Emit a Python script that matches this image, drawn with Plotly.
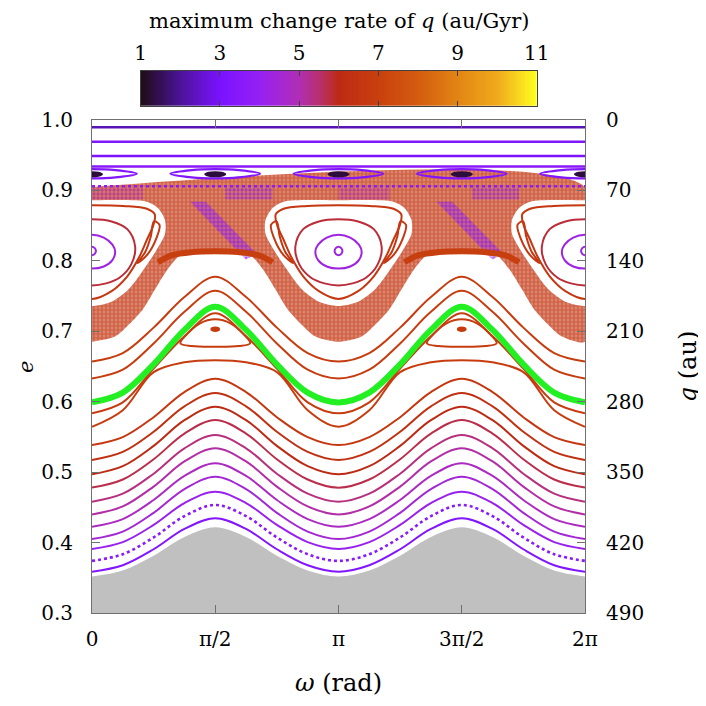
import numpy as np
import plotly.graph_objects as go
from plotly.colors import sample_colorscale

PI = np.pi

# ---------------- colour scale: maximum change rate of q (au/Gyr) ----------------
RATE_MIN, RATE_MAX = 1.0, 11.0
cscale = [[0.0, '#1e0c16'], [0.1, '#4c1498'], [0.2, '#7a12ff'], [0.3, '#9620f4'],
          [0.4, '#b02eb4'], [0.45, '#b83070'], [0.5, '#bd2a14'], [0.6, '#c8400e'],
          [0.7, '#d45c10'], [0.8, '#e28514'], [0.9, '#efaa1c'], [1.0, '#ffff20']]
cbar_ticks = [1, 3, 5, 7, 9, 11]

# ---------------- axes ----------------
x_tickvals = [0, PI / 2, PI, 3 * PI / 2, 2 * PI]
x_ticktext = ['0', 'π/2', 'π', '3π/2', '2π']
e_ticks = [0.3, 0.4, 0.5, 0.6, 0.7, 0.8, 0.9, 1.0]
q_ticks = [0, 70, 140, 210, 280, 350, 420, 490]

# ---------------- rotating (circulating) curves: e at omega = 0, pi/8, pi/4, 3pi/8, pi/2 ----
omega_half = [0, PI / 8, PI / 4, 3 * PI / 8, PI / 2]
rot_e = [
    [0.3587, 0.3678, 0.3905, 0.4193, 0.4345],
    [0.3740, 0.3835, 0.4073, 0.4375, 0.4534],
    [0.3910, 0.4007, 0.4251, 0.4560, 0.4722],
    [0.4050, 0.4156, 0.4422, 0.4759, 0.4936],
    [0.4226, 0.4334, 0.4604, 0.4946, 0.5126],
    [0.4400, 0.4513, 0.4795, 0.5152, 0.5340],
    [0.4580, 0.4694, 0.4978, 0.5338, 0.5528],
    [0.4780, 0.4895, 0.5183, 0.5548, 0.5740],
    [0.4970, 0.5085, 0.5373, 0.5738, 0.5930],
    [0.5173, 0.5287, 0.5573, 0.5935, 0.6125],
    [0.5385, 0.5498, 0.5780, 0.6137, 0.6325],
    [0.5645, 0.5880, 0.6420, 0.6560, 0.6590],
    [0.5836, 0.5990, 0.6470, 0.6930, 0.7255],
    [0.6330, 0.6455, 0.6828, 0.7276, 0.7575],
    [0.6570, 0.6690, 0.7052, 0.7486, 0.7775],
]
rot_rate = [3.3, 3.6, 4.1, 4.5, 4.8, 5.1, 5.4, 5.7, 6.0, 6.3, 6.6, 6.8, 6.8, 6.8, 6.8]
rot_dash = ['solid', 'dot'] + ['solid'] * 13

green_e = [0.599, 0.613, 0.653, 0.702, 0.735]
gray_e = [0.352, 0.3604, 0.3813, 0.4078, 0.4217]

# thick arch just below the X points (omega, e) for the left half, mirrored about pi/2
arch_w = [0.84, 1.02, 1.28, PI / 2]
arch_e = [0.798, 0.808, 0.8125, 0.8135]
arch_rate = 6.9

# small island inside the green-bounded lobe, centred at pi/2 and 3pi/2
small_centres = [PI / 2, 3 * PI / 2]
small_dw = [0, 0.20, 0.36, 0.445, 0.30, 0]
small_e = [0.717, 0.711, 0.696, 0.683, 0.679, 0.678]
small_rate = 6.8
dot_dw = [0, 0.035, 0.05, 0.035, 0]
dot_e = [0.7055, 0.7048, 0.7030, 0.7012, 0.7005]

# ---------------- nearly flat curves near e = 1 ----------------
flat_e = [0.9896, 0.969, 0.949, 0.934]
flat_rate = [2.3, 3.3, 3.1, 3.5]
dotted_e = 0.906
dotted_rate = 3.7

# small lens islands at e ~ 0.923 (half shape: d-omega, e), centres
lens_centres = [0, PI / 2, PI, 3 * PI / 2, 2 * PI]
lens_dw = [0, 0.30, 0.57, 0.30, 0]
lens_e = [0.9302, 0.9288, 0.9238, 0.9186, 0.9172]
lens_rate = 3.3
core_dw = [0, 0.08, 0.13, 0.08, 0]
core_e = [0.9262, 0.9255, 0.9230, 0.9205, 0.9198]
core_rate = 1.3

# ---------------- chaotic layer ----------------
chaos_low_w = [0, 0.30, 0.64, 0.80, 0.95, 1.10, 1.30, PI / 2]
chaos_low_e = [0.685, 0.693, 0.730, 0.759, 0.786, 0.806, 0.815, 0.817]
chaos_top_e = 0.905
chaos_rate = 6.5
purple_w = [1.25, 1.45, 2.10, 1.96]
purple_e = [0.884, 0.884, 0.810, 0.802]
purple_rate = 3.8
topband_w = [[0.0, 0.65], [1.70, 2.30]]
topband_rate = [4.8, 3.8]
topband_e = [0.887, 0.904]

# ---------------- big libration islands around omega = 0, pi, 2pi ----------------
island_centres = [0, PI, 2 * PI]
island_dw = [0, 0.25, 0.47, 0.66, 0.82, 0.93, 0.93, 0.84, 0.70, 0]
island_e = [0.736, 0.742, 0.760, 0.788, 0.815, 0.838, 0.858, 0.875, 0.884, 0.886]
loops = [
    dict(dw=[0, 0.035, 0.05, 0.035, 0], e=[0.820, 0.818, 0.814, 0.810, 0.808], rate=4.3),
    dict(dw=[0, 0.15, 0.26, 0.295, 0.26, 0.15, 0], e=[0.837, 0.833, 0.823, 0.813, 0.801, 0.792, 0.789], rate=4.3),
    dict(dw=[0, 0.25, 0.45, 0.55, 0.50, 0.35, 0.18, 0], e=[0.859, 0.856, 0.845, 0.820, 0.795, 0.776, 0.768, 0.765], rate=5.8),
    dict(dw=[0, 0.40, 0.70, 0.80, 0.78, 0.70, 0.60, 0.45, 0.25, 0],
         e=[0.879, 0.878, 0.874, 0.866, 0.850, 0.830, 0.805, 0.778, 0.757, 0.746], rate=6.6),
]
cres_dw = [0.79, 0.86, 0.82, 0.70, 0.58, 0.68, 0.75, 0.79]
cres_e = [0.856, 0.851, 0.832, 0.808, 0.797, 0.813, 0.835, 0.856]
cres_rate = 6.6


def col(rate):
    return sample_colorscale(cscale, [(rate - RATE_MIN) / (RATE_MAX - RATE_MIN)])[0]


def rgba(rate, a):
    return col(rate).replace('rgb', 'rgba').replace(')', ',%s)' % a)


def period_nodes(w_half, v_half):
    w1 = list(w_half) + [PI - w for w in reversed(w_half[:-1])]
    v1 = list(v_half) + list(reversed(v_half[:-1]))
    return w1 + [PI + w for w in w1[1:]], v1 + v1[1:]


def loop_nodes(dw, e, c):
    xs = [c + d for d in dw] + [c - d for d in reversed(dw[1:-1])] + [c + dw[0]]
    ys = list(e) + list(reversed(e[1:-1])) + [e[0]]
    return xs, ys


def speckle(rate, a_bg, solidity):
    return dict(shape='.', fgcolor=col(rate), bgcolor=rgba(rate, a_bg), size=4, solidity=solidity)


fig = go.Figure()

# forbidden (gray) region
gx, gy = period_nodes(omega_half, gray_e)
fig.add_trace(go.Scatter(x=gx, y=gy, mode='lines', line=dict(color='#c0c0c0', width=0, shape='spline'),
                         fill='tozeroy', fillcolor='#c0c0c0', hoverinfo='skip'))

# chaotic layer
lx, ly = period_nodes(chaos_low_w, chaos_low_e)
fig.add_trace(go.Scatter(x=lx + [2 * PI, 0], y=ly + [chaos_top_e, chaos_top_e], mode='lines',
                         line=dict(width=0, shape='spline', smoothing=0.6), fill='toself',
                         fillpattern=speckle(chaos_rate, 0.55, 0.7), hoverinfo='skip'))
for shift in [0, PI]:
    fig.add_trace(go.Scatter(x=[w + shift for w in purple_w] + [purple_w[0] + shift],
                             y=purple_e + [purple_e[0]], mode='lines', line=dict(width=0),
                             fill='toself', fillpattern=speckle(purple_rate, 0.35, 0.5), hoverinfo='skip'))
    for (w0, w1), r in zip(topband_w, topband_rate):
        fig.add_trace(go.Scatter(x=[w0 + shift, w1 + shift, w1 + shift, w0 + shift, w0 + shift],
                                 y=[topband_e[0], topband_e[0], topband_e[1], topband_e[1], topband_e[0]],
                                 mode='lines', line=dict(width=0), fill='toself',
                                 fillpattern=speckle(r, 0.2, 0.35), hoverinfo='skip'))

# island interiors (regular region) cleared of chaos
for c in island_centres:
    ix, iy = loop_nodes(island_dw, island_e, c)
    fig.add_trace(go.Scatter(x=ix, y=iy, mode='lines', line=dict(width=0, shape='spline', smoothing=0.8),
                             fill='toself', fillcolor='white', hoverinfo='skip'))

# island loops
for c in island_centres:
    for lp in loops:
        x, y = loop_nodes(lp['dw'], lp['e'], c)
        fig.add_trace(go.Scatter(x=x, y=y, mode='lines',
                                 line=dict(color=col(lp['rate']), width=2, shape='spline'), hoverinfo='skip'))
    for sgn in [1, -1]:
        fig.add_trace(go.Scatter(x=[c + sgn * d for d in cres_dw], y=cres_e, mode='lines',
                                 line=dict(color=col(cres_rate), width=2, shape='spline'), hoverinfo='skip'))

# rotating curves
for ev, r, d in zip(rot_e, rot_rate, rot_dash):
    x, y = period_nodes(omega_half, ev)
    fig.add_trace(go.Scatter(x=x, y=y, mode='lines',
                             line=dict(color=col(r), width=2 if d == 'solid' else 2.6, dash=d, shape='spline'),
                             hoverinfo='skip'))
for shift in [0, PI]:
    aw = arch_w + [PI - w for w in reversed(arch_w[:-1])]
    ae = arch_e + list(reversed(arch_e[:-1]))
    fig.add_trace(go.Scatter(x=[w + shift for w in aw], y=ae, mode='lines',
                             line=dict(color=col(arch_rate), width=6, shape='spline'), hoverinfo='skip'))
# small island (loop + centre) below the green curve
for c in small_centres:
    x, y = loop_nodes(small_dw, small_e, c)
    fig.add_trace(go.Scatter(x=x, y=y, mode='lines', line=dict(color=col(small_rate), width=2, shape='spline'),
                             hoverinfo='skip'))
    x, y = loop_nodes(dot_dw, dot_e, c)
    fig.add_trace(go.Scatter(x=x, y=y, mode='lines', line=dict(color=col(small_rate), width=2, shape='spline'),
                             fill='toself', fillcolor=col(small_rate), hoverinfo='skip'))
gx2, gy2 = period_nodes(omega_half, green_e)
fig.add_trace(go.Scatter(x=gx2, y=gy2, mode='lines', line=dict(color='#22f022', width=6, shape='spline'),
                         hoverinfo='skip'))

# flat curves near e = 1
for ev, r in zip(flat_e, flat_rate):
    fig.add_trace(go.Scatter(x=[0, 2 * PI], y=[ev, ev], mode='lines', line=dict(color=col(r), width=2.5),
                             hoverinfo='skip'))
fig.add_trace(go.Scatter(x=[0, 2 * PI], y=[dotted_e, dotted_e], mode='lines',
                         line=dict(color=col(dotted_rate), width=2.5, dash='dot'), hoverinfo='skip'))
for c in lens_centres:
    x, y = loop_nodes(lens_dw, lens_e, c)
    fig.add_trace(go.Scatter(x=x, y=y, mode='lines', line=dict(color=col(lens_rate), width=2.2, shape='spline'),
                             hoverinfo='skip'))
    x, y = loop_nodes(core_dw, core_e, c)
    fig.add_trace(go.Scatter(x=x, y=y, mode='lines', line=dict(color=col(core_rate), width=1.5, shape='spline'),
                             fill='toself', fillcolor=col(core_rate), hoverinfo='skip'))

# right axis (q) anchor trace
fig.add_trace(go.Scatter(x=[None], y=[None], yaxis='y2', showlegend=False, hoverinfo='skip'))

# colour bar drawn as a heat strip
cb_vals = list(np.linspace(RATE_MIN, RATE_MAX, 256))
fig.add_trace(go.Heatmap(x=cb_vals, y=[0], z=[cb_vals], colorscale=cscale, zmin=RATE_MIN, zmax=RATE_MAX,
                         showscale=False, xaxis='x2', yaxis='y3', hoverinfo='skip'))

FONT = 'DejaVu Serif'
axis_line = '#707070'
fig.update_layout(
    width=706, height=706, showlegend=False,
    margin=dict(l=84, r=129, t=0, b=101, autoexpand=False),
    paper_bgcolor='white', plot_bgcolor='white',
    font=dict(family=FONT, size=20, color='black'),
    xaxis=dict(domain=[0, 1], anchor='y', range=[0, 2 * PI], tickvals=x_tickvals, ticktext=x_ticktext,
               ticks='inside', ticklen=8, tickcolor=axis_line, mirror='ticks', showline=True,
               linecolor=axis_line, linewidth=1, showgrid=False, zeroline=False, ticklabelstandoff=8,
               automargin=False, title=dict(text='<i>ω</i> (rad)', standoff=24)),
    yaxis=dict(domain=[0, 0.81488], anchor='x', range=[0.3, 1.0], tickvals=e_ticks, tickformat='.1f',
               ticks='inside', ticklen=8, tickcolor=axis_line, showline=True, linecolor=axis_line,
               linewidth=1, showgrid=False, zeroline=False, ticklabelstandoff=14, automargin=False),
    yaxis2=dict(overlaying='y', side='right', anchor='x', range=[490, 0], tickvals=q_ticks,
                ticks='inside', ticklen=8, tickcolor=axis_line, showline=True, linecolor=axis_line,
                linewidth=1, showgrid=False, zeroline=False, ticklabelstandoff=16, automargin=False,
                title=dict(text='<i>q</i> (au)', standoff=36)),
    xaxis2=dict(domain=[0.0988, 0.9020], anchor='y3', range=[RATE_MIN, RATE_MAX], side='top',
                tickvals=cbar_ticks, ticks='inside', ticklen=5, tickcolor='#404040', mirror='ticks',
                showline=True, linecolor='#404040', linewidth=1, showgrid=False, zeroline=False,
                ticklabelstandoff=2, automargin=False),
    yaxis3=dict(domain=[0.83802, 0.89636], anchor='x2', range=[-0.5, 0.5], showticklabels=False,
                showline=True, mirror=True, linecolor='#404040', linewidth=1, ticks='', showgrid=False,
                zeroline=False, automargin=False),
    annotations=[
        dict(text='maximum change rate of <i>q</i> (au/Gyr)', xref='paper', yref='paper',
             x=0.5, y=0.9785, xanchor='center', yanchor='middle', showarrow=False,
             font=dict(family=FONT, size=21)),
        dict(text='<i>e</i>', xref='paper', yref='paper', x=-0.134, y=0.4066, xanchor='center',
             yanchor='middle', showarrow=False, textangle=-90, font=dict(family=FONT, size=21)),
    ],
)

fig.write_html('out.html')
